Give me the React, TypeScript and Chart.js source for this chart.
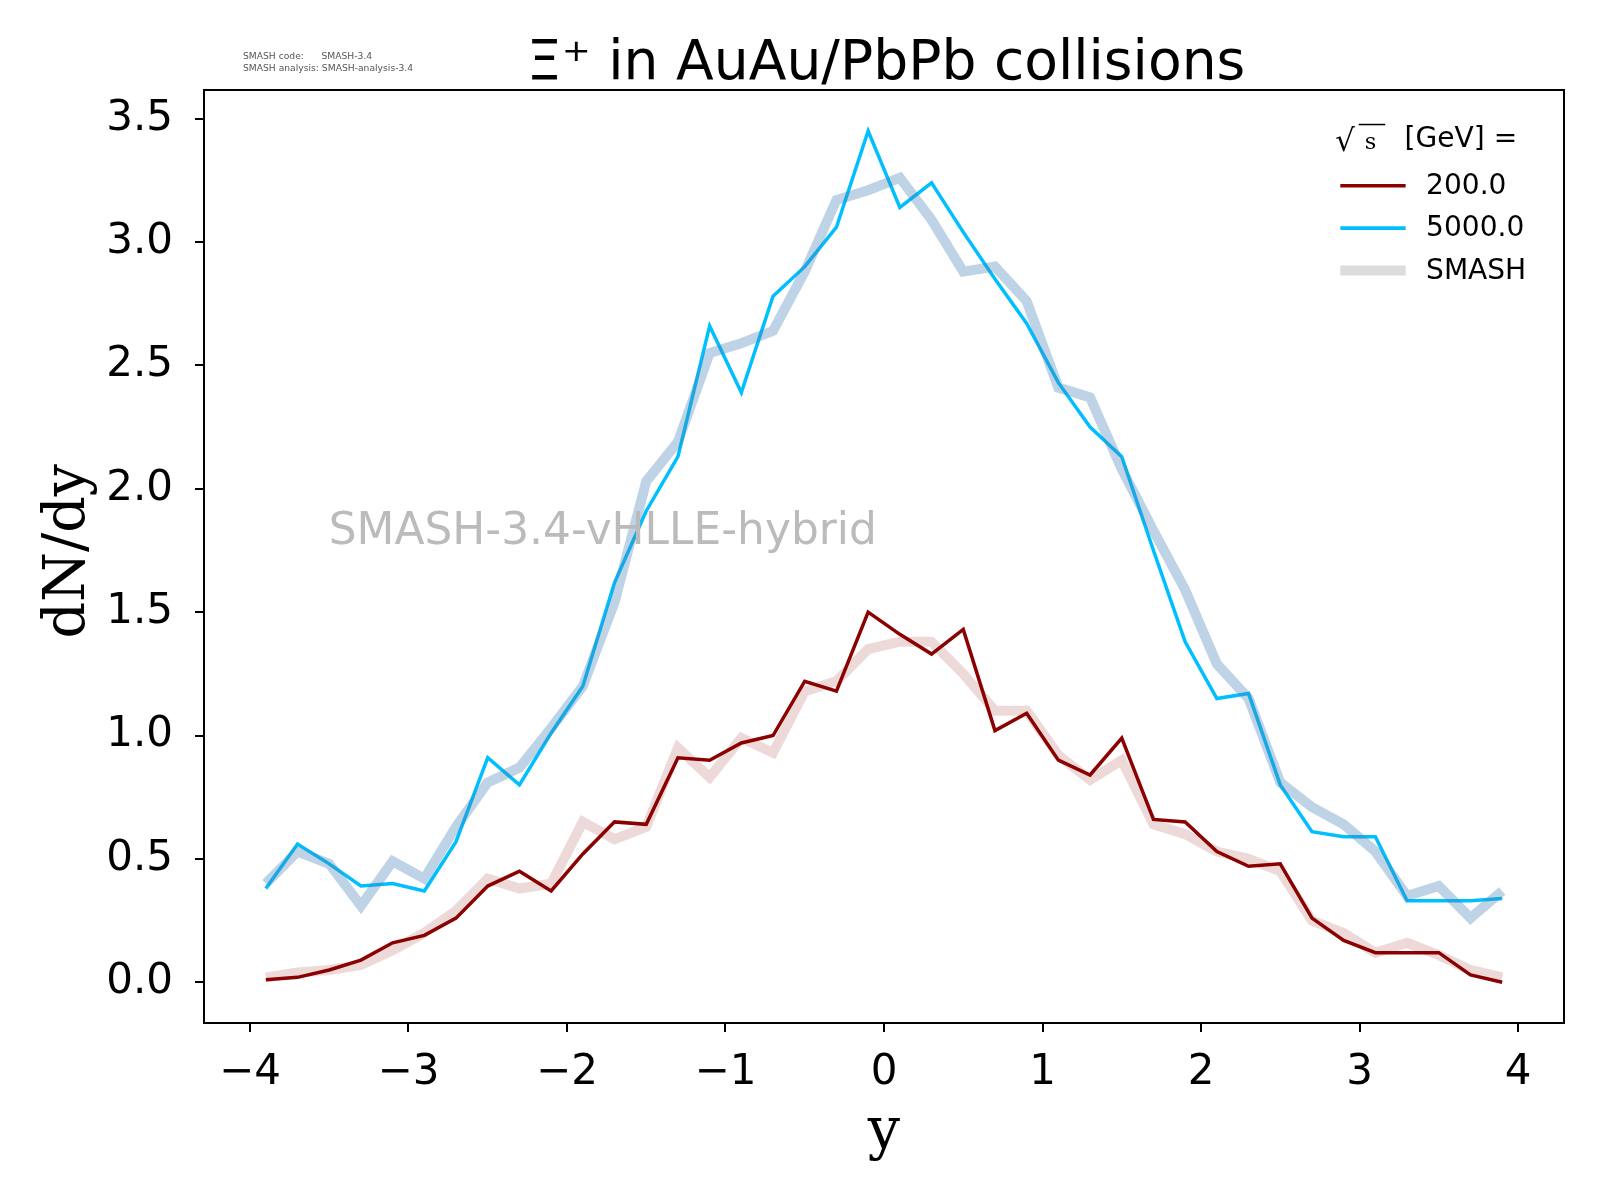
import React, { useEffect, useRef } from "react";
import { Chart, registerables } from "chart.js";
Chart.register(...registerables);

const yVals = [-3.9,-3.7,-3.5,-3.3,-3.1,-2.9,-2.7,-2.5,-2.3,-2.1,-1.9,-1.7,-1.5,-1.3,-1.1,-0.9,-0.7,-0.5,-0.3,-0.1,0.1,0.3,0.5,0.7,0.9,1.1,1.3,1.5,1.7,1.9,2.1,2.3,2.5,2.7,2.9,3.1,3.3,3.5,3.7,3.9];
const hybrid5000 = [0.38,0.56,0.48,0.39,0.40,0.37,0.57,0.91,0.80,1.01,1.20,1.62,1.91,2.13,2.66,2.39,2.78,2.90,3.06,3.45,3.14,3.24,3.04,2.85,2.67,2.43,2.25,2.13,1.75,1.38,1.15,1.17,0.80,0.61,0.59,0.59,0.33,0.33,0.33,0.34];
const smash5000 = [0.40,0.53,0.48,0.31,0.49,0.42,0.63,0.81,0.87,1.03,1.20,1.54,2.03,2.19,2.55,2.59,2.64,2.88,3.17,3.21,3.26,3.09,2.88,2.90,2.76,2.41,2.37,2.08,1.83,1.59,1.29,1.15,0.81,0.71,0.64,0.53,0.35,0.39,0.26,0.37];
const hybrid200 = [0.01,0.02,0.05,0.09,0.16,0.19,0.26,0.39,0.45,0.37,0.52,0.65,0.64,0.91,0.90,0.97,1.00,1.22,1.18,1.50,1.41,1.33,1.43,1.02,1.09,0.90,0.84,0.99,0.66,0.65,0.53,0.47,0.48,0.26,0.17,0.12,0.12,0.12,0.03,0.00];
const smash200 = [0.02,0.04,0.05,0.07,0.13,0.20,0.29,0.42,0.38,0.40,0.65,0.58,0.63,0.95,0.83,0.99,0.93,1.18,1.22,1.35,1.38,1.38,1.25,1.10,1.10,0.92,0.82,0.90,0.64,0.60,0.53,0.50,0.45,0.25,0.20,0.12,0.16,0.11,0.05,0.02];

const pts = (v: number[]) => v.map((y, i) => ({ x: yVals[i], y }));
const K = 1.0208;

const overlay = {
  id: "overlay",
  afterDraw(chart: any) {
    const c = chart.ctx as CanvasRenderingContext2D;
    const a = chart.chartArea;
    c.save();
    c.strokeStyle = "#000"; c.lineWidth = 2;
    c.strokeRect(a.left, a.top, a.right - a.left, a.bottom - a.top);
    c.scale(K, K);
    c.fillStyle = "#000";
    c.textAlign = "center"; c.textBaseline = "alphabetic";
    c.font = "54px 'DejaVu Sans'";
    c.fillText("Ξ⁺ in AuAu/PbPb collisions", 868, 77);
    c.font = "9px 'DejaVu Sans'"; c.fillStyle = "#555"; c.textAlign = "left";
    c.fillText("SMASH code:      SMASH-3.4", 238, 58);
    c.fillText("SMASH analysis: SMASH-analysis-3.4", 238, 70);
    c.font = "43px 'DejaVu Sans'"; c.fillStyle = "#bbbbbb";
    c.textBaseline = "middle";
    c.fillText("SMASH-3.4-vHLLE-hybrid", 322, 522);
    c.fillStyle = "#000"; c.font = "56px 'DejaVu Serif'"; c.textAlign = "center";
    c.fillText("y", 866, 1110);
    c.save(); c.translate(68, 540); c.rotate(-Math.PI / 2);
    c.fillText("dN/dy", 0, 0); c.restore();
    c.textAlign = "left"; c.font = "30px 'DejaVu Serif'";
    c.fillText("√", 1308, 140);
    c.beginPath(); c.moveTo(1331, 122); c.lineTo(1357, 122); c.lineWidth = 1.5; c.strokeStyle = "#000"; c.stroke();
    c.font = "22px 'DejaVu Serif'"; c.fillText("s", 1337, 140);
    c.font = "27.5px 'DejaVu Sans'"; c.fillText("[GeV] =", 1376, 137);
    const items: [string, string, number][] = [["200.0", "#8b0000", 3.5], ["5000.0", "#00bfff", 3.5], ["SMASH", "#dcdcdc", 10]];
    items.forEach(([t, col, w], i) => {
      const yy = 182 + i * 41.5;
      c.beginPath(); c.moveTo(1313, yy); c.lineTo(1377, yy);
      c.strokeStyle = col; c.lineWidth = w; c.stroke();
      c.fillStyle = "#000"; c.fillText(t, 1397, yy + 1);
    });
    c.restore();
  },
};

export default function App() {
  const ref = useRef<HTMLCanvasElement>(null);
  useEffect(() => {
    const ch = new Chart(ref.current!, {
      type: "line",
      data: {
        datasets: [
          { data: pts(smash200), borderColor: "rgba(139,0,0,0.15)", borderWidth: 10, pointRadius: 0 },
          { data: pts(smash5000), borderColor: "rgba(70,130,180,0.35)", borderWidth: 10, pointRadius: 0 },
          { data: pts(hybrid200), borderColor: "#8b0000", borderWidth: 3.5, pointRadius: 0 },
          { data: pts(hybrid5000), borderColor: "#00bfff", borderWidth: 3.5, pointRadius: 0 },
        ],
      },
      options: {
        responsive: false, animation: false,
        layout: { padding: { left: 0, top: 90, right: 36, bottom: 0 } },
        plugins: { legend: { display: false }, tooltip: { enabled: false } },
        scales: {
          x: {
            type: "linear", min: -4.29, max: 4.29,
            afterFit: (s: any) => { s.height = 177; },
            afterBuildTicks: (s: any) => { s.ticks = [-4,-3,-2,-1,0,1,2,3,4].map(v => ({ value: v })); },
            ticks: { font: { size: 42, family: "'DejaVu Sans'" }, color: "#000", padding: 16, maxRotation: 0,
              callback: (v: any) => String(v).replace("-", "−") },
            grid: { drawOnChartArea: false, tickLength: 9, color: "#000", lineWidth: 2 },
            border: { display: false },
          },
          y: {
            min: -0.165, max: 3.616,
            afterFit: (s: any) => { s.width = 204; },
            afterBuildTicks: (s: any) => { s.ticks = [0,0.5,1,1.5,2,2.5,3,3.5].map(v => ({ value: v })); },
            ticks: { font: { size: 42, family: "'DejaVu Sans'" }, color: "#000", padding: 22,
              callback: (v: any) => Number(v).toFixed(1) },
            grid: { drawOnChartArea: false, tickLength: 9, color: "#000", lineWidth: 2 },
            border: { display: false },
          },
        },
      },
      plugins: [overlay],
    });
    return () => ch.destroy();
  }, []);
  return (
    <div style={{ position: "fixed", left: 0, top: 0, width: 1600, height: 1200, background: "#fff" }}>
      <canvas ref={ref} width={1600} height={1200} style={{ width: 1600, height: 1200 }} />
    </div>
  );
}
